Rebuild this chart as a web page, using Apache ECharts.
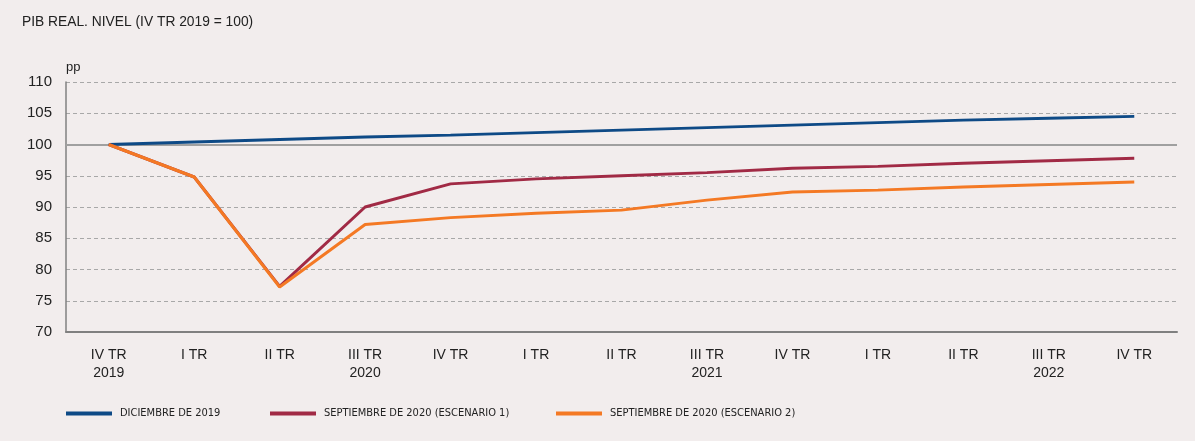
<!DOCTYPE html>
<html><head><meta charset="utf-8">
<script src="https://cdn.jsdelivr.net/npm/echarts@6/dist/echarts.min.js"></script>
<style>html,body{margin:0;padding:0;background:#f2eded;}#c{width:1195px;height:441px;}</style>
</head><body><div id="c"></div>
<script>
const categories = ['IV TR\n2019','I TR','II TR','III TR\n2020','IV TR','I TR','II TR','III TR\n2021','IV TR','I TR','II TR','III TR\n2022','IV TR'];
const dic2019 = [100, 100.4, 100.8, 101.2, 101.5, 101.9, 102.3, 102.7, 103.1, 103.5, 103.9, 104.2, 104.5];
const sep2020esc1 = [100, 94.8, 77.3, 90.0, 93.7, 94.5, 95.0, 95.5, 96.2, 96.5, 97.0, 97.4, 97.8];
const sep2020esc2 = [100, 94.8, 77.2, 87.2, 88.3, 89.0, 89.5, 91.1, 92.4, 92.7, 93.2, 93.6, 94.0];
const seriesNames = ['DICIEMBRE DE 2019','SEPTIEMBRE DE 2020 (ESCENARIO 1)','SEPTIEMBRE DE 2020 (ESCENARIO 2)'];
const colors = ['#0e4a86','#a12a45','#f47924'];

const chart = echarts.init(document.getElementById('c'));
const legendBase = {top: 408, padding: 0, itemWidth: 46, itemHeight: 4, icon: 'rect', itemGap: 10,
  textStyle: {fontFamily: 'DejaVu Sans Condensed', fontSize: 11, color: '#222', padding: [0,0,0,3]}};
chart.setOption({
  backgroundColor: '#f2eded',
  animation: false,
  color: colors,
  title: {text: 'PIB REAL. NIVEL (IV TR 2019 = 100)', left: 22, top: 15, padding: 0,
    textStyle: {fontFamily: 'Liberation Sans', fontSize: 13.8, fontWeight: 'normal', color: '#222'}},
  legend: [
    Object.assign({}, legendBase, {left: 66, data: [seriesNames[0]]}),
    Object.assign({}, legendBase, {left: 270, data: [seriesNames[1]]}),
    Object.assign({}, legendBase, {left: 556, data: [seriesNames[2]]})
  ],
  grid: {left: 66, right: 18, top: 82, bottom: 109, containLabel: false},
  xAxis: {type: 'category', data: categories, boundaryGap: true,
    axisLine: {lineStyle: {color: '#808080', width: 2}},
    axisTick: {inside: true, length: 5, lineStyle: {color: '#808080', width: 1}},
    axisLabel: {fontFamily: 'Liberation Sans', fontSize: 14, color: '#222', margin: 14, lineHeight: 18, interval: 0}},
  yAxis: {type: 'value', min: 70, max: 110, interval: 5,
    name: 'pp', nameLocation: 'end', nameGap: 8,
    nameTextStyle: {fontFamily: 'Liberation Sans', fontSize: 13, color: '#222', align: 'left', padding: [0,0,0,0]},
    axisLine: {show: true, lineStyle: {color: '#808080', width: 1.5}},
    axisTick: {show: false},
    axisLabel: {fontFamily: 'Liberation Sans', fontSize: 15, color: '#222', margin: 14},
    splitLine: {lineStyle: {color: '#a8a8a8', type: [4,3], width: 1}}},
  series: [
    {name: seriesNames[0], type: 'line', data: dic2019, symbol: 'none', lineStyle: {width: 3}, z: 3,
      markLine: {silent: true, symbol: 'none', label: {show: false},
        lineStyle: {color: '#a0a0a0', type: 'solid', width: 2}, data: [{yAxis: 100}], z: 1}},
    {name: seriesNames[1], type: 'line', data: sep2020esc1, symbol: 'none', lineStyle: {width: 3}, z: 3},
    {name: seriesNames[2], type: 'line', data: sep2020esc2, symbol: 'none', lineStyle: {width: 3}, z: 4}
  ]
});
</script></body></html>
